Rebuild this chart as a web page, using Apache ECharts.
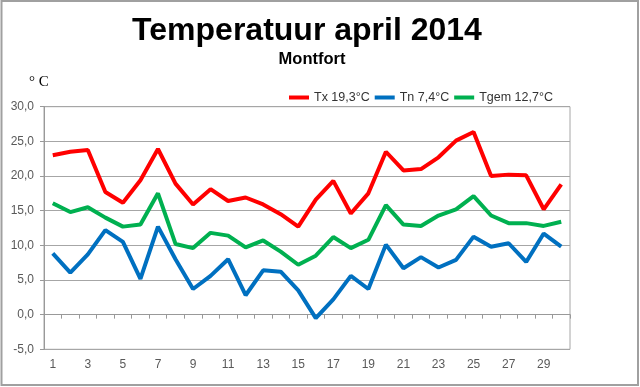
<!DOCTYPE html>
<html>
<head>
<meta charset="utf-8">
<script src="https://cdn.jsdelivr.net/npm/echarts@6/dist/echarts.min.js"></script>
<style>
html,body{margin:0;padding:0;background:#fff;}
#chart{width:640px;height:387px;}
</style>
</head>
<body>
<div id="chart"></div>
<script>
var days = ['1','2','3','4','5','6','7','8','9','10','11','12','13','14','15','16','17','18','19','20','21','22','23','24','25','26','27','28','29','30'];
var seriesNames = ['Tx 19,3°C', 'Tn 7,4°C', 'Tgem 12,7°C'];
var tx = [23.0, 23.5, 23.75, 17.7, 16.15, 19.4, 23.9, 18.9, 15.9, 18.1, 16.4, 16.9, 15.9, 14.5, 12.7, 16.6, 19.3, 14.6, 17.5, 23.5, 20.8, 21.0, 22.7, 25.1, 26.35, 20.0, 20.2, 20.1, 15.2, 18.8];
var tn = [8.85, 6.05, 8.7, 12.2, 10.5, 5.15, 12.7, 8.0, 3.7, 5.6, 8.0, 2.8, 6.4, 6.2, 3.5, -0.5, 2.2, 5.6, 3.7, 10.1, 6.7, 8.3, 6.8, 7.9, 11.25, 9.8, 10.3, 7.6, 11.7, 9.8];
var tgem = [16.06, 14.8, 15.5, 14.0, 12.7, 13.0, 17.5, 10.2, 9.6, 11.8, 11.4, 9.7, 10.7, 9.1, 7.2, 8.5, 11.2, 9.6, 10.8, 15.8, 13.0, 12.8, 14.3, 15.2, 17.1, 14.3, 13.2, 13.2, 12.8, 13.4];
var titleText = 'Temperatuur april 2014';
var subtitleText = 'Montfort';
var unitText = '° C';

var FONT = "'Liberation Sans', Arial, sans-serif";
var chart = echarts.init(document.getElementById('chart'), null, {renderer: 'canvas'});
function mkSeries(name, data, color) {
  return {
    name: name, type: 'line', data: data, xAxisIndex: 0,
    symbol: 'none', smooth: false, animation: false,
    lineStyle: {color: color, width: 4}, itemStyle: {color: color}
  };
}
chart.setOption({
  animation: false,
  backgroundColor: '#ffffff',
  textStyle: {fontFamily: FONT},
  graphic: [
    {type: 'rect', shape: {x: 1.5, y: 1, width: 636.5, height: 384}, style: {fill: 'none', stroke: '#a0a0a0', lineWidth: 2}, silent: true},
    {type: 'text', x: 307, y: 31, style: {text: titleText, font: 'bold 32px ' + FONT, fill: '#000', textAlign: 'center', textVerticalAlign: 'middle'}},
    {type: 'text', x: 312, y: 59.5, style: {text: subtitleText, font: 'bold 16.5px ' + FONT, fill: '#000', textAlign: 'center', textVerticalAlign: 'middle'}},
    {type: 'text', x: 29, y: 82, style: {text: unitText, font: '15px "Liberation Serif", "Times New Roman", serif', fill: '#000', textAlign: 'left', textVerticalAlign: 'middle'}}
  ],
  legend: {
    left: 284, top: 86, icon: 'rect', itemWidth: 20, itemHeight: 4, itemGap: 5,
    data: seriesNames,
    textStyle: {fontFamily: FONT, fontSize: 12.5, color: '#333333'}
  },
  grid: {left: 44, right: 70, top: 106.7, bottom: 37.7, show: true, borderColor: '#a6a6a6', borderWidth: 1, containLabel: false},
  xAxis: [
    {
      type: 'category', data: days, boundaryGap: true, position: 'bottom',
      axisLine: {show: false, onZero: false},
      axisTick: {show: false},
      axisLabel: {interval: 1, color: '#595959', fontSize: 12, margin: 9, fontFamily: FONT},
      splitLine: {show: false}
    },
    {
      type: 'category', data: days, boundaryGap: true, position: 'bottom',
      axisLine: {show: true, onZero: true, lineStyle: {color: '#999999', width: 1}},
      axisTick: {show: true, interval: 0, length: 4, lineStyle: {color: '#999999'}},
      axisLabel: {show: false},
      splitLine: {show: false}
    }
  ],
  yAxis: {
    type: 'value', min: -5, max: 30, interval: 5,
    axisLine: {show: true, lineStyle: {color: '#999999'}},
    axisTick: {show: true, length: 4, lineStyle: {color: '#999999'}},
    axisLabel: {color: '#595959', fontSize: 12, margin: 10, fontFamily: FONT,
      formatter: function (v) { return v.toFixed(1).replace('.', ','); }},
    splitLine: {show: true, lineStyle: {color: '#a6a6a6', width: 1}}
  },
  series: [
    mkSeries(seriesNames[0], tx, '#ff0000'),
    mkSeries(seriesNames[1], tn, '#0070c0'),
    mkSeries(seriesNames[2], tgem, '#00b050')
  ]
});
</script>
</body>
</html>
